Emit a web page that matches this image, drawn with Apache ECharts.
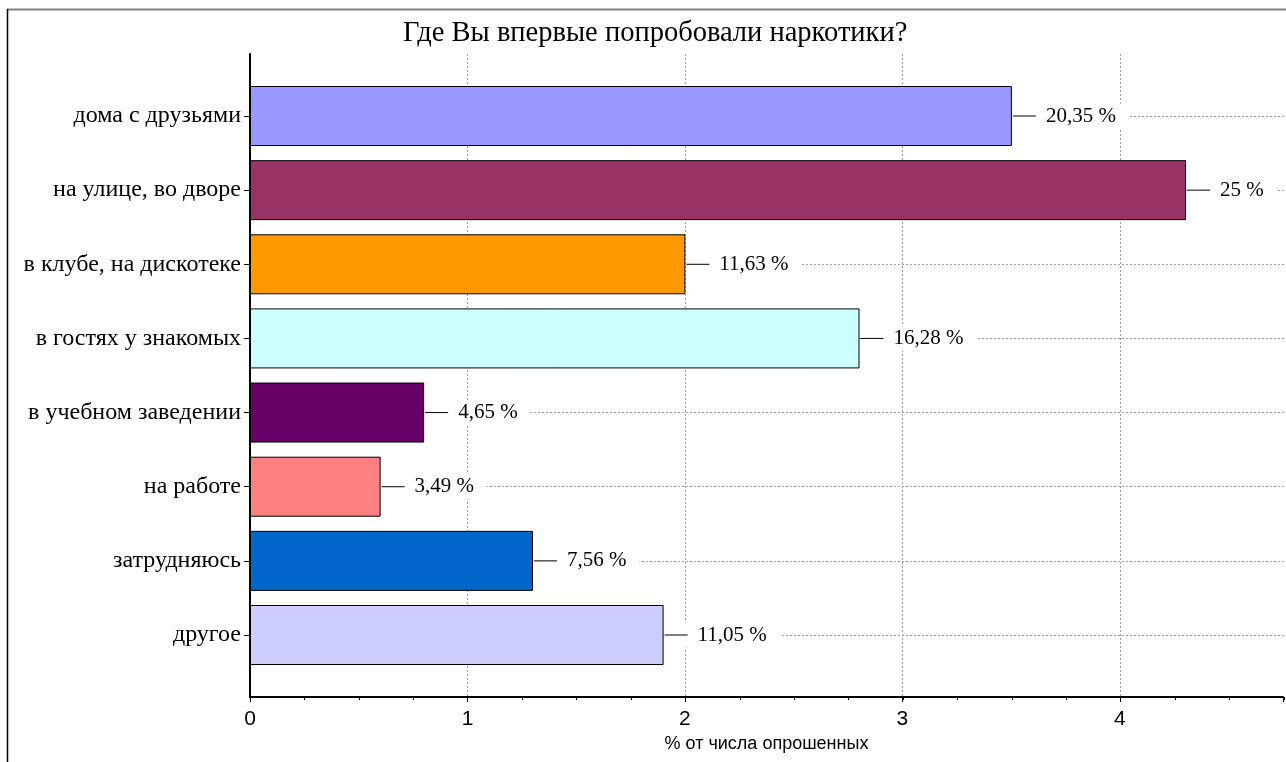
<!DOCTYPE html>
<html><head><meta charset="utf-8">
<script src="https://cdn.jsdelivr.net/npm/echarts@6/dist/echarts.min.js"></script>
<style>html,body{margin:0;padding:0;background:#fff}#c{width:1286px;height:762px}</style>
</head><body><div id="c"></div>
<script>
const chartTitle = 'Где Вы впервые попробовали наркотики?';
const categories = ['дома с друзьями','на улице, во дворе','в клубе, на дискотеке','в гостях у знакомых','в учебном заведении','на работе','затрудняюсь','другое'];
const values = [3.5, 4.3, 2.0, 2.8, 0.8, 0.6, 1.3, 1.9];
const percentLabels = ['20,35 %','25 %','11,63 %','16,28 %','4,65 %','3,49 %','7,56 %','11,05 %'];
const barColors = ['#9999FF','#993366','#FF9900','#CCFFFF','#660066','#FF8080','#0066CC','#CCCCFF'];
const xTickLabels = [0, 1, 2, 3, 4];
const xAxisName = '% от числа опрошенных';
const xMax = 4.75;

const chart = echarts.init(document.getElementById('c'), null, {renderer: 'canvas'});
const serif = 'Liberation Serif';
const sans = 'Liberation Sans';
const gridLine = {show: true, lineStyle: {color: '#a0a0a0', type: [2, 2], width: 1}};

const option = {
  animation: false,
  backgroundColor: '#fff',
  title: {
    text: chartTitle, left: 398, top: 14,
    textStyle: {fontFamily: serif, fontSize: 28.5, fontWeight: 'normal', color: '#000'}
  },
  graphic: [
    {type: 'line', shape: {x1: 7, y1: 9.5, x2: 1286, y2: 9.5}, style: {stroke: '#808080', lineWidth: 2}, silent: true},
    {type: 'line', shape: {x1: 7.5, y1: 9, x2: 7.5, y2: 762}, style: {stroke: '#000', lineWidth: 1.5}, silent: true}
  ],
  grid: [
    {left: 250, right: 2, top: 54, bottom: 65},
    {left: 250, right: 2, top: 54, bottom: 65},
    {left: 250, right: 2, top: 116, bottom: 127}
  ],
  xAxis: [
    {
      gridIndex: 0, type: 'value', min: 0, max: xMax, interval: 1,
      axisLine: {show: true, lineStyle: {color: '#000', width: 2}},
      axisTick: {show: true, length: 5, lineStyle: {color: '#000'}},
      axisLabel: {
        margin: 12, fontFamily: sans, fontSize: 21, color: '#000',
        formatter: v => (xTickLabels.indexOf(v) >= 0 ? String(v) : '')
      },
      splitLine: Object.assign({showMaxLine: false, showMinLine: false}, gridLine),
      name: xAxisName, nameLocation: 'middle', nameGap: 36,
      nameTextStyle: {fontFamily: sans, fontSize: 18, color: '#000'}
    },
    {
      gridIndex: 1, type: 'value', min: 0, max: xMax, interval: 0.25,
      axisLine: {show: false}, axisLabel: {show: false}, splitLine: {show: false},
      axisTick: {show: true, length: 3, lineStyle: {color: '#000'}}
    },
    {
      gridIndex: 2, type: 'value', min: 0, max: xMax, show: false
    }
  ],
  yAxis: [
    {
      gridIndex: 0, type: 'value', min: 0, max: 1,
      axisLine: {show: true, lineStyle: {color: '#000', width: 2}},
      axisTick: {show: false}, axisLabel: {show: false}, splitLine: {show: false}
    },
    {gridIndex: 1, type: 'value', min: 0, max: 1, show: false},
    {
      gridIndex: 2, type: 'category', data: categories, inverse: true, boundaryGap: false,
      axisLine: {show: false},
      axisTick: {show: true, length: 6, lineStyle: {color: '#000'}},
      axisLabel: {margin: 9, fontFamily: serif, fontSize: 24, color: '#000'},
      splitLine: gridLine
    }
  ],
  series: [{
    type: 'bar', xAxisIndex: 2, yAxisIndex: 2, barWidth: 60,
    data: values.map((v, i) => ({value: v, itemStyle: {color: barColors[i]}})),
    itemStyle: {borderColor: '#000', borderWidth: 1},
    label: {
      show: true, position: 'right', distance: 1,
      backgroundColor: '#fff', padding: [2, 13, 2, 0],
      formatter: p => '{l|}{g|}{t|' + percentLabels[p.dataIndex] + '}',
      rich: {
        l: {width: 23, height: 1, backgroundColor: '#000'},
        g: {width: 10},
        t: {fontFamily: serif, fontSize: 21, color: '#000'}
      }
    }
  }]
};
chart.setOption(option);
</script></body></html>
